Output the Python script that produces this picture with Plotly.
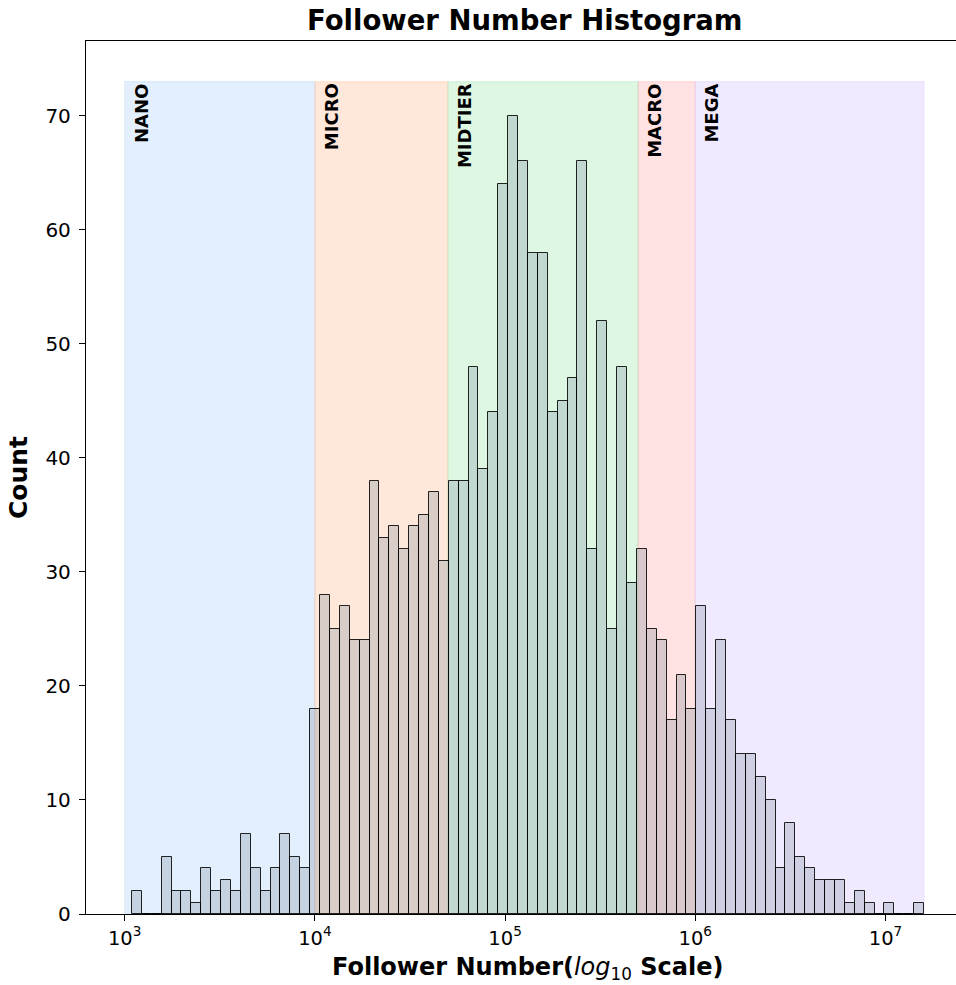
import numpy as np
import plotly.graph_objects as go

# ---------------- data ----------------
counts = [2, 0, 0, 5, 2, 2, 1, 4, 2, 3, 2, 7, 4, 2, 4, 7, 5, 4, 18,
          28, 25, 27, 24, 24, 38, 33, 34, 32, 34, 35, 37, 31,
          38, 38, 48, 39, 44, 64, 70, 66, 58, 58, 44, 45, 47, 66, 32, 52, 25, 48, 29,
          32, 25, 24, 17, 21, 18, 27, 18, 24, 17, 14, 14, 12, 10,
          4, 8, 5, 4, 3, 3, 3, 1, 2, 1, 0, 1, 0, 0, 1]
min_followers = 1092
max_followers = 15.94e6
n_bins = 80

tiers = ["NANO", "MICRO", "MIDTIER", "MACRO", "MEGA"]
tier_starts = [1e3, 1e4, 5e4, 5e5, 1e6]
tier_ends = [1e4, 5e4, 5e5, 1e6, max_followers]
tier_colors = ["161,201,244", "255,180,130", "141,229,161", "255,159,155", "208,187,255"]

x_tick_exps = [3, 4, 5, 6, 7]
y_ticks = [0, 10, 20, 30, 40, 50, 60, 70]

# ---------------- build ----------------
edges = np.linspace(np.log10(min_followers), np.log10(max_followers), n_bins + 1)
centers = (edges[:-1] + edges[1:]) / 2
bin_w = edges[1] - edges[0]
band_top = max(counts) + 3

FONT = "DejaVu Sans"
W, H = 956, 985
ML, MR, MT, MB = 86, 0, 41, 71
PW, PH = W - ML - MR, H - MT - MB

fig = go.Figure()

shapes = []
annotations = []
for name, s, e, c in zip(tiers, tier_starts, tier_ends, tier_colors):
    shapes.append(dict(type="rect", xref="x", yref="y", layer="below",
                       x0=np.log10(s), x1=np.log10(e), y0=0, y1=band_top,
                       fillcolor=f"rgba({c},0.3)",
                       line=dict(color=f"rgba({c},0.25)", width=1.2)))
    annotations.append(dict(x=np.log10(s) + 0.085, y=band_top, xref="x", yref="y",
                            text=f"<b>{name}</b>", showarrow=False, textangle=-90,
                            xanchor="center", yanchor="top",
                            font=dict(family=FONT, size=18, color="black")))

fig.add_trace(go.Bar(
    x=centers, y=counts, width=bin_w,
    marker=dict(color="rgba(119,136,153,0.28)",
                line=dict(color="rgba(0,0,0,0.85)", width=1)),
    showlegend=False, hoverinfo="skip"))

# title centred over the (cropped) axes
annotations.append(dict(x=(525 - ML) / PW, y=1 + (MT - 20) / PH,
                        xref="paper", yref="paper",
                        text="<b>Follower Number Histogram</b>", showarrow=False,
                        xanchor="center", yanchor="middle",
                        font=dict(family=FONT, size=27.5, color="black")))
# x-axis title (centred over the uncropped axes like the reference)
annotations.append(dict(x=(527 - ML) / PW, y=-(968 - (H - MB)) / PH,
                        xref="paper", yref="paper",
                        text="<b>Follower Number(</b><i>log</i><sub>10</sub><b> Scale)</b>",
                        showarrow=False, xanchor="center", yanchor="middle",
                        font=dict(family=FONT, size=24, color="black")))

fig.update_layout(
    width=W, height=H,
    margin=dict(l=ML, r=MR, t=MT, b=MB),
    paper_bgcolor="white", plot_bgcolor="white",
    bargap=0,
    shapes=shapes,
    annotations=annotations,
    font=dict(family=FONT, color="black"),
    xaxis=dict(
        range=[2.7965, 7.3707],
        tickmode="array",
        tickvals=x_tick_exps,
        ticktext=[f"10<sup>{e}</sup>" for e in x_tick_exps],
        ticks="outside", ticklen=6, tickwidth=1.2, tickcolor="black",
        showline=True, linecolor="black", linewidth=1.3, mirror=True,
        showgrid=False, zeroline=False,
        tickfont=dict(family=FONT, size=19.5, color="black"),
    ),
    yaxis=dict(
        range=[0, 76.56],
        tickmode="array", tickvals=y_ticks,
        ticks="outside", ticklen=6, tickwidth=1.2, tickcolor="black",
        showline=True, linecolor="black", linewidth=1.3, mirror=False,
        showgrid=False, zeroline=False,
        tickfont=dict(family=FONT, size=20, color="black"),
        ticklabelstandoff=4,
        title=dict(text="<b>Count</b>", font=dict(family=FONT, size=25, color="black"),
                   standoff=10),
    ),
)

fig.write_html("out.html", config={"displayModeBar": False},
               post_script="document.body.style.margin='0';document.body.style.overflow='hidden';")
